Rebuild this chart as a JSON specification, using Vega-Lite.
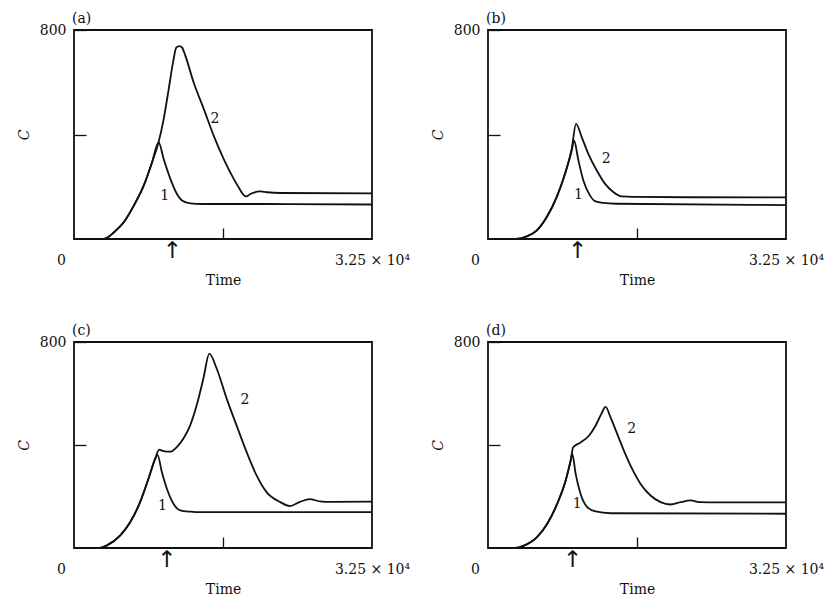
{
  "$schema": "https://vega.github.io/schema/vega-lite/v6.json",
  "background": "white",
  "padding": {"left": 16, "top": 11, "right": 5, "bottom": 5},
  "datasets": {
    "curves": [
      {"panel": "a", "series": "1", "t": 0, "c": 0}, {"panel": "a", "series": "1", "t": 3000, "c": 0}, {"panel": "a", "series": "1", "t": 3600, "c": 5}, {"panel": "a", "series": "1", "t": 4330, "c": 25}, {"panel": "a", "series": "1", "t": 5420, "c": 64}, {"panel": "a", "series": "1", "t": 6510, "c": 127}, {"panel": "a", "series": "1", "t": 7600, "c": 204}, {"panel": "a", "series": "1", "t": 8507, "c": 293}, {"panel": "a", "series": "1", "t": 9235, "c": 370}, {"panel": "a", "series": "1", "t": 9780, "c": 306}, {"panel": "a", "series": "1", "t": 10510, "c": 230}, {"panel": "a", "series": "1", "t": 11230, "c": 172}, {"panel": "a", "series": "1", "t": 11780, "c": 147}, {"panel": "a", "series": "1", "t": 12680, "c": 136}, {"panel": "a", "series": "1", "t": 14000, "c": 134}, {"panel": "a", "series": "1", "t": 21000, "c": 134}, {"panel": "a", "series": "1", "t": 32500, "c": 132},
      {"panel": "a", "series": "2", "t": 0, "c": 0}, {"panel": "a", "series": "2", "t": 3000, "c": 0}, {"panel": "a", "series": "2", "t": 3600, "c": 5}, {"panel": "a", "series": "2", "t": 4330, "c": 25}, {"panel": "a", "series": "2", "t": 5420, "c": 64}, {"panel": "a", "series": "2", "t": 6510, "c": 127}, {"panel": "a", "series": "2", "t": 7600, "c": 204}, {"panel": "a", "series": "2", "t": 8507, "c": 293}, {"panel": "a", "series": "2", "t": 9235, "c": 372}, {"panel": "a", "series": "2", "t": 9780, "c": 459}, {"panel": "a", "series": "2", "t": 10330, "c": 574}, {"panel": "a", "series": "2", "t": 10800, "c": 676}, {"panel": "a", "series": "2", "t": 11160, "c": 733}, {"panel": "a", "series": "2", "t": 11500, "c": 738}, {"panel": "a", "series": "2", "t": 11780, "c": 733}, {"panel": "a", "series": "2", "t": 12140, "c": 702}, {"panel": "a", "series": "2", "t": 13050, "c": 599}, {"panel": "a", "series": "2", "t": 14150, "c": 498}, {"panel": "a", "series": "2", "t": 15240, "c": 395}, {"panel": "a", "series": "2", "t": 16330, "c": 306}, {"panel": "a", "series": "2", "t": 17420, "c": 230}, {"panel": "a", "series": "2", "t": 18000, "c": 195}, {"panel": "a", "series": "2", "t": 18510, "c": 168}, {"panel": "a", "series": "2", "t": 18800, "c": 163}, {"panel": "a", "series": "2", "t": 19230, "c": 172}, {"panel": "a", "series": "2", "t": 20320, "c": 182}, {"panel": "a", "series": "2", "t": 21050, "c": 179}, {"panel": "a", "series": "2", "t": 22500, "c": 176}, {"panel": "a", "series": "2", "t": 32500, "c": 175},

      {"panel": "b", "series": "1", "t": 0, "c": 0}, {"panel": "b", "series": "1", "t": 3000, "c": 0}, {"panel": "b", "series": "1", "t": 4240, "c": 10}, {"panel": "b", "series": "1", "t": 5330, "c": 33}, {"panel": "b", "series": "1", "t": 6410, "c": 84}, {"panel": "b", "series": "1", "t": 7500, "c": 161}, {"panel": "b", "series": "1", "t": 8400, "c": 250}, {"panel": "b", "series": "1", "t": 9130, "c": 339}, {"panel": "b", "series": "1", "t": 9380, "c": 377}, {"panel": "b", "series": "1", "t": 9860, "c": 301}, {"panel": "b", "series": "1", "t": 10400, "c": 224}, {"panel": "b", "series": "1", "t": 11120, "c": 167}, {"panel": "b", "series": "1", "t": 11660, "c": 145}, {"panel": "b", "series": "1", "t": 12570, "c": 138}, {"panel": "b", "series": "1", "t": 14000, "c": 135}, {"panel": "b", "series": "1", "t": 32500, "c": 130},
      {"panel": "b", "series": "2", "t": 0, "c": 0}, {"panel": "b", "series": "2", "t": 3000, "c": 0}, {"panel": "b", "series": "2", "t": 4240, "c": 10}, {"panel": "b", "series": "2", "t": 5330, "c": 33}, {"panel": "b", "series": "2", "t": 6410, "c": 84}, {"panel": "b", "series": "2", "t": 7500, "c": 161}, {"panel": "b", "series": "2", "t": 8400, "c": 250}, {"panel": "b", "series": "2", "t": 9130, "c": 345}, {"panel": "b", "series": "2", "t": 9600, "c": 441}, {"panel": "b", "series": "2", "t": 10220, "c": 390}, {"panel": "b", "series": "2", "t": 10940, "c": 326}, {"panel": "b", "series": "2", "t": 11850, "c": 263}, {"panel": "b", "series": "2", "t": 12750, "c": 212}, {"panel": "b", "series": "2", "t": 13660, "c": 180}, {"panel": "b", "series": "2", "t": 14570, "c": 163}, {"panel": "b", "series": "2", "t": 15840, "c": 161}, {"panel": "b", "series": "2", "t": 32500, "c": 159},

      {"panel": "c", "series": "1", "t": 0, "c": 0}, {"panel": "c", "series": "1", "t": 2800, "c": 0}, {"panel": "c", "series": "1", "t": 3590, "c": 10}, {"panel": "c", "series": "1", "t": 5050, "c": 49}, {"panel": "c", "series": "1", "t": 6140, "c": 101}, {"panel": "c", "series": "1", "t": 7220, "c": 179}, {"panel": "c", "series": "1", "t": 8130, "c": 270}, {"panel": "c", "series": "1", "t": 8860, "c": 347}, {"panel": "c", "series": "1", "t": 9110, "c": 362}, {"panel": "c", "series": "1", "t": 9580, "c": 295}, {"panel": "c", "series": "1", "t": 10120, "c": 231}, {"panel": "c", "series": "1", "t": 10850, "c": 172}, {"panel": "c", "series": "1", "t": 11580, "c": 146}, {"panel": "c", "series": "1", "t": 12670, "c": 141}, {"panel": "c", "series": "1", "t": 14000, "c": 139}, {"panel": "c", "series": "1", "t": 32500, "c": 139},
      {"panel": "c", "series": "2", "t": 0, "c": 0}, {"panel": "c", "series": "2", "t": 2800, "c": 0}, {"panel": "c", "series": "2", "t": 3590, "c": 10}, {"panel": "c", "series": "2", "t": 5050, "c": 49}, {"panel": "c", "series": "2", "t": 6140, "c": 101}, {"panel": "c", "series": "2", "t": 7220, "c": 179}, {"panel": "c", "series": "2", "t": 8130, "c": 270}, {"panel": "c", "series": "2", "t": 8860, "c": 347}, {"panel": "c", "series": "2", "t": 9290, "c": 382}, {"panel": "c", "series": "2", "t": 9760, "c": 376}, {"panel": "c", "series": "2", "t": 10490, "c": 374}, {"panel": "c", "series": "2", "t": 11210, "c": 392}, {"panel": "c", "series": "2", "t": 11940, "c": 425}, {"panel": "c", "series": "2", "t": 12670, "c": 476}, {"panel": "c", "series": "2", "t": 13380, "c": 554}, {"panel": "c", "series": "2", "t": 14110, "c": 658}, {"panel": "c", "series": "2", "t": 14760, "c": 755}, {"panel": "c", "series": "2", "t": 15560, "c": 697}, {"panel": "c", "series": "2", "t": 16650, "c": 580}, {"panel": "c", "series": "2", "t": 17730, "c": 476}, {"panel": "c", "series": "2", "t": 18820, "c": 373}, {"panel": "c", "series": "2", "t": 19910, "c": 282}, {"panel": "c", "series": "2", "t": 21000, "c": 217}, {"panel": "c", "series": "2", "t": 22460, "c": 179}, {"panel": "c", "series": "2", "t": 23540, "c": 163}, {"panel": "c", "series": "2", "t": 24630, "c": 179}, {"panel": "c", "series": "2", "t": 25720, "c": 190}, {"panel": "c", "series": "2", "t": 26810, "c": 181}, {"panel": "c", "series": "2", "t": 28000, "c": 179}, {"panel": "c", "series": "2", "t": 32500, "c": 180},

      {"panel": "d", "series": "1", "t": 0, "c": 0}, {"panel": "d", "series": "1", "t": 3000, "c": 0}, {"panel": "d", "series": "1", "t": 3920, "c": 9}, {"panel": "d", "series": "1", "t": 5370, "c": 43}, {"panel": "d", "series": "1", "t": 6460, "c": 94}, {"panel": "d", "series": "1", "t": 7550, "c": 172}, {"panel": "d", "series": "1", "t": 8470, "c": 262}, {"panel": "d", "series": "1", "t": 9010, "c": 339}, {"panel": "d", "series": "1", "t": 9190, "c": 365}, {"panel": "d", "series": "1", "t": 9560, "c": 288}, {"panel": "d", "series": "1", "t": 10100, "c": 210}, {"panel": "d", "series": "1", "t": 10820, "c": 159}, {"panel": "d", "series": "1", "t": 11730, "c": 142}, {"panel": "d", "series": "1", "t": 13370, "c": 135}, {"panel": "d", "series": "1", "t": 32500, "c": 133},
      {"panel": "d", "series": "2", "t": 0, "c": 0}, {"panel": "d", "series": "2", "t": 3000, "c": 0}, {"panel": "d", "series": "2", "t": 3920, "c": 9}, {"panel": "d", "series": "2", "t": 5370, "c": 43}, {"panel": "d", "series": "2", "t": 6460, "c": 94}, {"panel": "d", "series": "2", "t": 7550, "c": 172}, {"panel": "d", "series": "2", "t": 8470, "c": 262}, {"panel": "d", "series": "2", "t": 9010, "c": 339}, {"panel": "d", "series": "2", "t": 9290, "c": 391}, {"panel": "d", "series": "2", "t": 10100, "c": 410}, {"panel": "d", "series": "2", "t": 11000, "c": 436}, {"panel": "d", "series": "2", "t": 11730, "c": 475}, {"panel": "d", "series": "2", "t": 12350, "c": 520}, {"panel": "d", "series": "2", "t": 12820, "c": 548}, {"panel": "d", "series": "2", "t": 13370, "c": 507}, {"panel": "d", "series": "2", "t": 14090, "c": 443}, {"panel": "d", "series": "2", "t": 14820, "c": 378}, {"panel": "d", "series": "2", "t": 15720, "c": 307}, {"panel": "d", "series": "2", "t": 16640, "c": 249}, {"panel": "d", "series": "2", "t": 17730, "c": 204}, {"panel": "d", "series": "2", "t": 18820, "c": 178}, {"panel": "d", "series": "2", "t": 19910, "c": 169}, {"panel": "d", "series": "2", "t": 21000, "c": 178}, {"panel": "d", "series": "2", "t": 22090, "c": 185}, {"panel": "d", "series": "2", "t": 23170, "c": 178}, {"panel": "d", "series": "2", "t": 25000, "c": 177}, {"panel": "d", "series": "2", "t": 32500, "c": 177}
    ],
    "labels": [
      {"panel": "a", "label": "2", "t": 15380, "c": 460}, {"panel": "a", "label": "1", "t": 9890, "c": 166},
      {"panel": "b", "label": "2", "t": 12900, "c": 307}, {"panel": "b", "label": "1", "t": 9860, "c": 167},
      {"panel": "c", "label": "2", "t": 18650, "c": 576}, {"panel": "c", "label": "1", "t": 9650, "c": 163},
      {"panel": "d", "label": "2", "t": 15660, "c": 462}, {"panel": "d", "label": "1", "t": 9730, "c": 169}
    ],
    "arrows": [
      {"panel": "a", "t": 10700}, {"panel": "b", "t": 9750}, {"panel": "c", "t": 10100}, {"panel": "d", "t": 9200}
    ]
  },
  "config": {
    "view": {"stroke": "#111111", "strokeWidth": 1.8},
    "font": "DejaVu Serif",
    "axis": {
      "domain": false, "grid": false,
      "labelFont": "DejaVu Serif", "labelFontSize": 14, "labelColor": "#111111",
      "titleFont": "DejaVu Serif", "titleFontSize": 14, "titleFontWeight": "normal", "titleColor": "#111111",
      "tickColor": "#111111", "tickWidth": 1.3
    },
    "title": {"font": "DejaVu Serif", "fontSize": 14, "fontWeight": "normal", "color": "#111111", "anchor": "start", "frame": "group", "offset": -3, "dx": -2}
  },
  "columns": 2,
  "spacing": {"row": 103, "column": 116},
  "bounds": "flush",
  "concat": [
    {
      "width": 298, "height": 209,
      "title": {"text": "(a)"},
      "layer": [
        {"data": {"name": "curves"}, "transform": [{"filter": "datum.panel == 'a'"}],
         "mark": {"type": "line", "interpolate": "monotone", "strokeWidth": 1.8, "color": "#111111"},
         "encoding": {
           "x": {"field": "t", "type": "quantitative", "scale": {"domain": [0, 32500], "nice": false},
             "axis": {"values": [0, 16250, 32500], "labelExpr": "datum.value == 0 ? '0' : datum.value == 32500 ? '3.25 × 10⁴' : ''", "labelFlush": false, "labelOverlap": false, "labelOffset": {"condition": {"test": "datum.value == 0", "value": -13}, "value": 0}, "tickSize": -11, "tickOpacity": {"condition": {"test": "datum.value == 16250", "value": 1}, "value": 0}, "labelPadding": 25, "title": "Time", "titlePadding": 6}},
           "y": {"field": "c", "type": "quantitative", "scale": {"domain": [0, 800], "nice": false},
             "axis": {"values": [400, 800], "labelExpr": "datum.value == 800 ? '800' : ''", "tickSize": -12, "labelPadding": 20, "title": "C", "titleFontStyle": "italic", "titlePadding": 8}},
           "detail": {"field": "series"}
         }},
        {"data": {"name": "labels"}, "transform": [{"filter": "datum.panel == 'a'"}],
         "mark": {"type": "text", "font": "DejaVu Serif", "fontSize": 14, "color": "#111111"},
         "encoding": {"x": {"field": "t", "type": "quantitative"}, "y": {"field": "c", "type": "quantitative"}, "text": {"field": "label"}}},
        {"data": {"name": "arrows"}, "transform": [{"filter": "datum.panel == 'a'"}],
         "mark": {"type": "text", "text": "↑", "font": "DejaVu Sans", "fontSize": 23, "baseline": "top", "dy": 1, "color": "#111111"},
         "encoding": {"x": {"field": "t", "type": "quantitative"}, "y": {"datum": 0, "type": "quantitative"}}}
      ]
    },
    {
      "width": 298, "height": 209,
      "title": {"text": "(b)"},
      "layer": [
        {"data": {"name": "curves"}, "transform": [{"filter": "datum.panel == 'b'"}],
         "mark": {"type": "line", "interpolate": "monotone", "strokeWidth": 1.8, "color": "#111111"},
         "encoding": {
           "x": {"field": "t", "type": "quantitative", "scale": {"domain": [0, 32500], "nice": false},
             "axis": {"values": [0, 16250, 32500], "labelExpr": "datum.value == 0 ? '0' : datum.value == 32500 ? '3.25 × 10⁴' : ''", "labelFlush": false, "labelOverlap": false, "labelOffset": {"condition": {"test": "datum.value == 0", "value": -13}, "value": 0}, "tickSize": -11, "tickOpacity": {"condition": {"test": "datum.value == 16250", "value": 1}, "value": 0}, "labelPadding": 25, "title": "Time", "titlePadding": 6}},
           "y": {"field": "c", "type": "quantitative", "scale": {"domain": [0, 800], "nice": false},
             "axis": {"values": [400, 800], "labelExpr": "datum.value == 800 ? '800' : ''", "tickSize": -12, "labelPadding": 20, "title": "C", "titleFontStyle": "italic", "titlePadding": 8}},
           "detail": {"field": "series"}
         }},
        {"data": {"name": "labels"}, "transform": [{"filter": "datum.panel == 'b'"}],
         "mark": {"type": "text", "font": "DejaVu Serif", "fontSize": 14, "color": "#111111"},
         "encoding": {"x": {"field": "t", "type": "quantitative"}, "y": {"field": "c", "type": "quantitative"}, "text": {"field": "label"}}},
        {"data": {"name": "arrows"}, "transform": [{"filter": "datum.panel == 'b'"}],
         "mark": {"type": "text", "text": "↑", "font": "DejaVu Sans", "fontSize": 23, "baseline": "top", "dy": 1, "color": "#111111"},
         "encoding": {"x": {"field": "t", "type": "quantitative"}, "y": {"datum": 0, "type": "quantitative"}}}
      ]
    },
    {
      "width": 298, "height": 206,
      "title": {"text": "(c)"},
      "layer": [
        {"data": {"name": "curves"}, "transform": [{"filter": "datum.panel == 'c'"}],
         "mark": {"type": "line", "interpolate": "monotone", "strokeWidth": 1.8, "color": "#111111"},
         "encoding": {
           "x": {"field": "t", "type": "quantitative", "scale": {"domain": [0, 32500], "nice": false},
             "axis": {"values": [0, 16250, 32500], "labelExpr": "datum.value == 0 ? '0' : datum.value == 32500 ? '3.25 × 10⁴' : ''", "labelFlush": false, "labelOverlap": false, "labelOffset": {"condition": {"test": "datum.value == 0", "value": -13}, "value": 0}, "tickSize": -11, "tickOpacity": {"condition": {"test": "datum.value == 16250", "value": 1}, "value": 0}, "labelPadding": 25, "title": "Time", "titlePadding": 6}},
           "y": {"field": "c", "type": "quantitative", "scale": {"domain": [0, 800], "nice": false},
             "axis": {"values": [400, 800], "labelExpr": "datum.value == 800 ? '800' : ''", "tickSize": -12, "labelPadding": 20, "title": "C", "titleFontStyle": "italic", "titlePadding": 8}},
           "detail": {"field": "series"}
         }},
        {"data": {"name": "labels"}, "transform": [{"filter": "datum.panel == 'c'"}],
         "mark": {"type": "text", "font": "DejaVu Serif", "fontSize": 14, "color": "#111111"},
         "encoding": {"x": {"field": "t", "type": "quantitative"}, "y": {"field": "c", "type": "quantitative"}, "text": {"field": "label"}}},
        {"data": {"name": "arrows"}, "transform": [{"filter": "datum.panel == 'c'"}],
         "mark": {"type": "text", "text": "↑", "font": "DejaVu Sans", "fontSize": 23, "baseline": "top", "dy": 1, "color": "#111111"},
         "encoding": {"x": {"field": "t", "type": "quantitative"}, "y": {"datum": 0, "type": "quantitative"}}}
      ]
    },
    {
      "width": 298, "height": 206,
      "title": {"text": "(d)"},
      "layer": [
        {"data": {"name": "curves"}, "transform": [{"filter": "datum.panel == 'd'"}],
         "mark": {"type": "line", "interpolate": "monotone", "strokeWidth": 1.8, "color": "#111111"},
         "encoding": {
           "x": {"field": "t", "type": "quantitative", "scale": {"domain": [0, 32500], "nice": false},
             "axis": {"values": [0, 16250, 32500], "labelExpr": "datum.value == 0 ? '0' : datum.value == 32500 ? '3.25 × 10⁴' : ''", "labelFlush": false, "labelOverlap": false, "labelOffset": {"condition": {"test": "datum.value == 0", "value": -13}, "value": 0}, "tickSize": -11, "tickOpacity": {"condition": {"test": "datum.value == 16250", "value": 1}, "value": 0}, "labelPadding": 25, "title": "Time", "titlePadding": 6}},
           "y": {"field": "c", "type": "quantitative", "scale": {"domain": [0, 800], "nice": false},
             "axis": {"values": [400, 800], "labelExpr": "datum.value == 800 ? '800' : ''", "tickSize": -12, "labelPadding": 20, "title": "C", "titleFontStyle": "italic", "titlePadding": 8}},
           "detail": {"field": "series"}
         }},
        {"data": {"name": "labels"}, "transform": [{"filter": "datum.panel == 'd'"}],
         "mark": {"type": "text", "font": "DejaVu Serif", "fontSize": 14, "color": "#111111"},
         "encoding": {"x": {"field": "t", "type": "quantitative"}, "y": {"field": "c", "type": "quantitative"}, "text": {"field": "label"}}},
        {"data": {"name": "arrows"}, "transform": [{"filter": "datum.panel == 'd'"}],
         "mark": {"type": "text", "text": "↑", "font": "DejaVu Sans", "fontSize": 23, "baseline": "top", "dy": 1, "color": "#111111"},
         "encoding": {"x": {"field": "t", "type": "quantitative"}, "y": {"datum": 0, "type": "quantitative"}}}
      ]
    }
  ]
}
